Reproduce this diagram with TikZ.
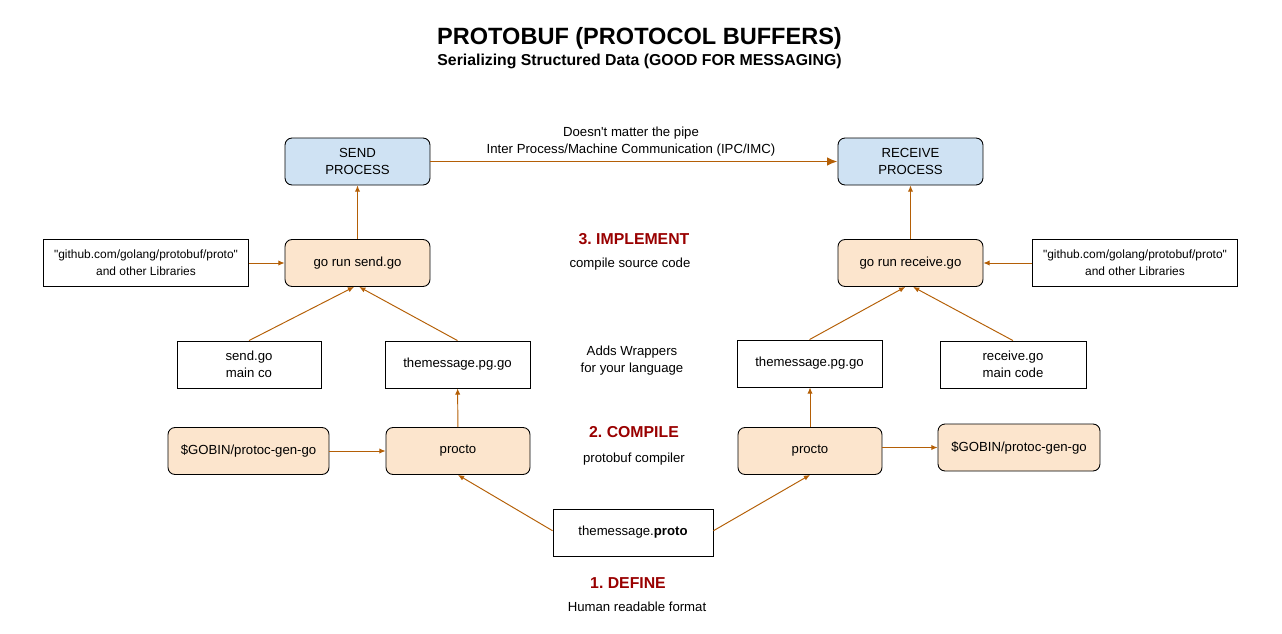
\documentclass[tikz,border=0pt]{standalone}
\usepackage{fontspec}
\setmainfont{Liberation Sans}
\usepackage{tikz}
\usetikzlibrary{arrows.meta}

\definecolor{procblue}{HTML}{CFE2F3}
\definecolor{toolfill}{HTML}{FCE5CD}
\definecolor{pipe}{HTML}{B45F06}
\definecolor{stagered}{HTML}{990000}

\frenchspacing
\begin{document}
\begin{tikzpicture}[x=0.02cm, y=-0.02cm,
		every node/.style={font=\fontsize{7.5}{9.6}\selectfont, align=center},
		proc/.style={draw, line width=0.5pt, rounded corners=4pt, fill=procblue, minimum width=2.9cm, minimum height=0.94cm},
		tool/.style={draw, line width=0.5pt, rounded corners=4pt, fill=toolfill, minimum height=0.94cm},
		srcfile/.style={draw, line width=0.5pt, minimum height=0.94cm},
		libbox/.style={srcfile, minimum width=4.1cm, inner xsep=1pt, font=\fontsize{6.8}{9.6}\selectfont},
		feed/.style={draw=pipe, line width=0.55pt, -{Latex[length=3.5pt,width=3pt]}},
		stage/.style={font=\fontsize{9}{11}\selectfont\bfseries, text=stagered}
	]
	\useasboundingbox (0,0) rectangle (1282,633);
	
	% Title
	\node (title) at (639.5,38) {\fontsize{13.4}{15}\selectfont\bfseries PROTOBUF (PROTOCOL BUFFERS)};
	\node (subtitle) at (639.5,61) {\fontsize{9}{11}\selectfont\bfseries Serializing Structured Data (GOOD FOR MESSAGING)};
	
	% Processes and the pipe between them
	\node[proc] (send) at (357.5,161.5) {SEND\\PROCESS};
	\node[proc] (recv) at (910.5,161.5) {RECEIVE\\PROCESS};
	\draw[draw=pipe, line width=1.1pt, -{Latex[length=6pt,width=5pt]}] (send) -- (recv);
	\node (pipelbl) at (631,142) {Doesn\textquotesingle t matter the pipe\\Inter Process/Machine Communication (IPC/IMC)};
	
	% Step 3, implement
	\node[libbox] (libL) at (146,263) {\textquotedbl github.com/golang/protobuf/proto\textquotedbl\\and other Libraries};
	\node[tool, minimum width=2.9cm] (runS) at (357.5,263) {go run send.go};
	\node[tool, minimum width=2.9cm] (runR) at (910.5,263) {go run receive.go};
	\node[libbox] (libR) at (1135,263) {\textquotedbl github.com/golang/protobuf/proto\textquotedbl\\and other Libraries};
	\node[stage] (implement) at (634,239) {3. IMPLEMENT};
	\node (implementtxt) at (630,264) {compile source code};
	\draw[feed] (libL) -- (runS);
	\draw[feed] (libR) -- (runR);
	\draw[feed] (runS) -- (send);
	\draw[feed] (runR) -- (recv);
	
	% Generated and hand written sources
	\node[srcfile, minimum width=2.88cm] (mainS) at (249,364.5) {send.go\\main co};
	\node[srcfile, minimum width=2.9cm] (pgL) at (457.5,364.5) {themessage.pg.go};
	\node[srcfile, minimum width=2.9cm] (pgR) at (809.5,363.5) {themessage.pg.go};
	\node[srcfile, minimum width=2.92cm] (mainR) at (1013,364.5) {receive.go\\main code};
	\node (wrappers) at (632,360.5) {Adds Wrappers\\for your language};
	\draw[feed] (mainS.north) -- ([xshift=-2pt]runS.south);
	\draw[feed] (pgL.north) -- ([xshift=1pt]runS.south);
	\draw[feed] (pgR.north) -- ([xshift=-3pt]runR.south);
	\draw[feed] (mainR.north) -- ([xshift=1.5pt]runR.south);
	
	% Step 2, compile
	\node[tool, minimum width=3.22cm] (gobinL) at (248.5,451) {\$GOBIN/protoc-gen-go};
	\node[tool, minimum width=2.88cm] (protocL) at (458,451) {procto};
	\node[tool, minimum width=2.88cm] (protocR) at (810,451) {procto};
	\node[tool, minimum width=3.24cm] (gobinR) at (1019,447.5) {\$GOBIN/protoc-gen-go};
	\node[stage] (compile) at (634,432) {2. COMPILE};
	\node (compiletxt) at (634,459) {protobuf compiler};
	\draw[feed] (gobinL) -- (protocL);
	\draw[feed] (protocR.east |- gobinR.west) -- (gobinR.west);
	\draw[feed] (protocL) -- (pgL);
	\draw[feed] (protocR.north) -- (pgR.south -| protocR.north);
	
	% Step 1, define
	\node[srcfile, minimum width=3.2cm] (proto) at (633,532.5) {themessage.\textbf{proto}};
	\node[stage] (define) at (628,583) {1. DEFINE};
	\node (definetxt) at (637,607) {Human readable format};
	\draw[feed] ([yshift=1pt]proto.west) -- (protocL.south);
	\draw[feed] ([yshift=1pt]proto.east) -- (protocR.south);
\end{tikzpicture}
\end{document}
